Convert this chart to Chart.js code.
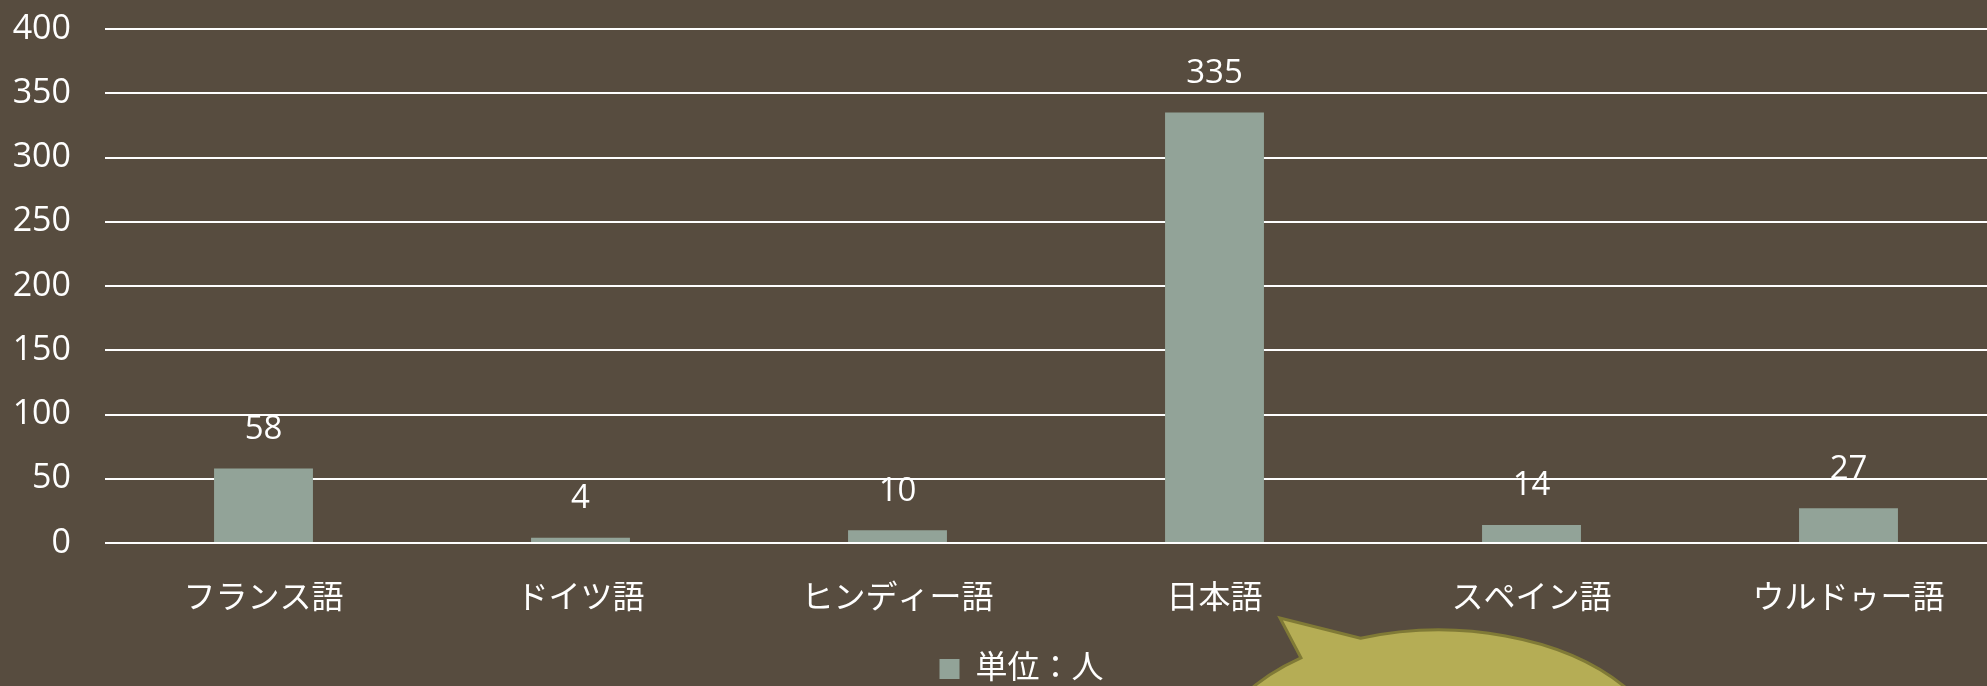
<!DOCTYPE html>
<html>
<head>
<meta charset="utf-8">
<script src="https://cdn.jsdelivr.net/npm/chart.js@4"></script>
<style>
  html, body { margin: 0; padding: 0; overflow: hidden; background: #574c3f; }
  #wrap { width: 2007px; height: 695px; }
</style>
</head>
<body>
<div id="wrap"><canvas id="mycanvas1"></canvas></div>
<script>
var languages = ["フランス語", "ドイツ語", "ヒンディー語", "日本語", "スペイン語", "ウルドゥー語"];
var people = [58, 4, 10, 335, 14, 27];
var seriesLabel = "単位：人";

var barColor = "#92a398";
var textColor = "#ffffff";
var fontFamily = "'Open Sans', 'Noto Sans CJK JP', sans-serif";

// value labels above each bar
var valueLabels = {
	id: "valueLabels",
	afterDatasetsDraw: function(chart) {
		var ctx = chart.ctx;
		var meta = chart.getDatasetMeta(0);
		ctx.save();
		ctx.font = "33px " + fontFamily;
		ctx.fillStyle = textColor;
		ctx.textAlign = "center";
		ctx.textBaseline = "middle";
		meta.data.forEach(function(bar, i) {
			ctx.fillText(chart.data.datasets[0].data[i], bar.x, bar.y - 39);
		});
		ctx.restore();
	}
};

// legend sits a bit right of the canvas centre in the original
var legendShift = {
	id: "legendShift",
	afterLayout: function(chart) {
		chart.legend.left += 18;
		chart.legend.right += 18;
	}
};

// olive speech bubble at the bottom
var bubble = {
	id: "bubble",
	afterDraw: function(chart) {
		var ctx = chart.ctx;
		var cx = 1439, cy = 770, rx = 231, ry = 140;
		var tLow = Math.atan2(-113 / ry, -139 / rx);
		var tUp = Math.atan2(-131 / ry, -78 / rx);
		ctx.save();
		ctx.beginPath();
		ctx.moveTo(cx + rx * Math.cos(tUp), cy + ry * Math.sin(tUp));
		ctx.lineTo(1280, 618);
		ctx.lineTo(cx + rx * Math.cos(tLow), cy + ry * Math.sin(tLow));
		ctx.ellipse(cx, cy, rx, ry, 0, tLow, tUp, true);
		ctx.closePath();
		ctx.fillStyle = "#b5ad55";
		ctx.fill();
		ctx.lineWidth = 3;
		ctx.strokeStyle = "#807a36";
		ctx.stroke();
		ctx.restore();
	}
};

var chartdata = {
	labels: languages,
	datasets: [
		{
			label: seriesLabel,
			backgroundColor: barColor,
			borderWidth: 0,
			barPercentage: 0.312,
			categoryPercentage: 1.0,
			data: people
		}
	]
};

var ctx = document.getElementById("mycanvas1");

var BarGraph = new Chart(ctx, {
	type: "bar",
	data: chartdata,
	plugins: [valueLabels, legendShift, bubble],
	options: {
		responsive: true,
		maintainAspectRatio: false,
		animation: false,
		layout: { padding: { top: 29, left: 0, right: 0, bottom: 0 } },
		scales: {
			y: {
				min: 0,
				max: 400,
				ticks: {
					stepSize: 50,
					color: textColor,
					padding: 34,
					font: { family: fontFamily, size: 34 }
				},
				grid: { color: "#ffffff", lineWidth: 2, drawTicks: false },
				border: { display: false },
				afterFit: function(scale) {
					scale.width = 105;
					scale.paddingTop = 0;
					scale.paddingBottom = 0;
				}
			},
			x: {
				ticks: {
					color: textColor,
					padding: 37,
					maxRotation: 0,
					font: { family: fontFamily, size: 32 }
				},
				grid: { display: false, drawTicks: false },
				border: { display: false },
				afterFit: function(scale) { scale.height = 100; }
			}
		},
		plugins: {
			legend: {
				position: "bottom",
				labels: {
					color: textColor,
					boxWidth: 20,
					boxHeight: 20,
					font: { family: fontFamily, size: 32 }
				}
			},
			tooltip: { enabled: false }
		}
	}
});
</script>
</body>
</html>
